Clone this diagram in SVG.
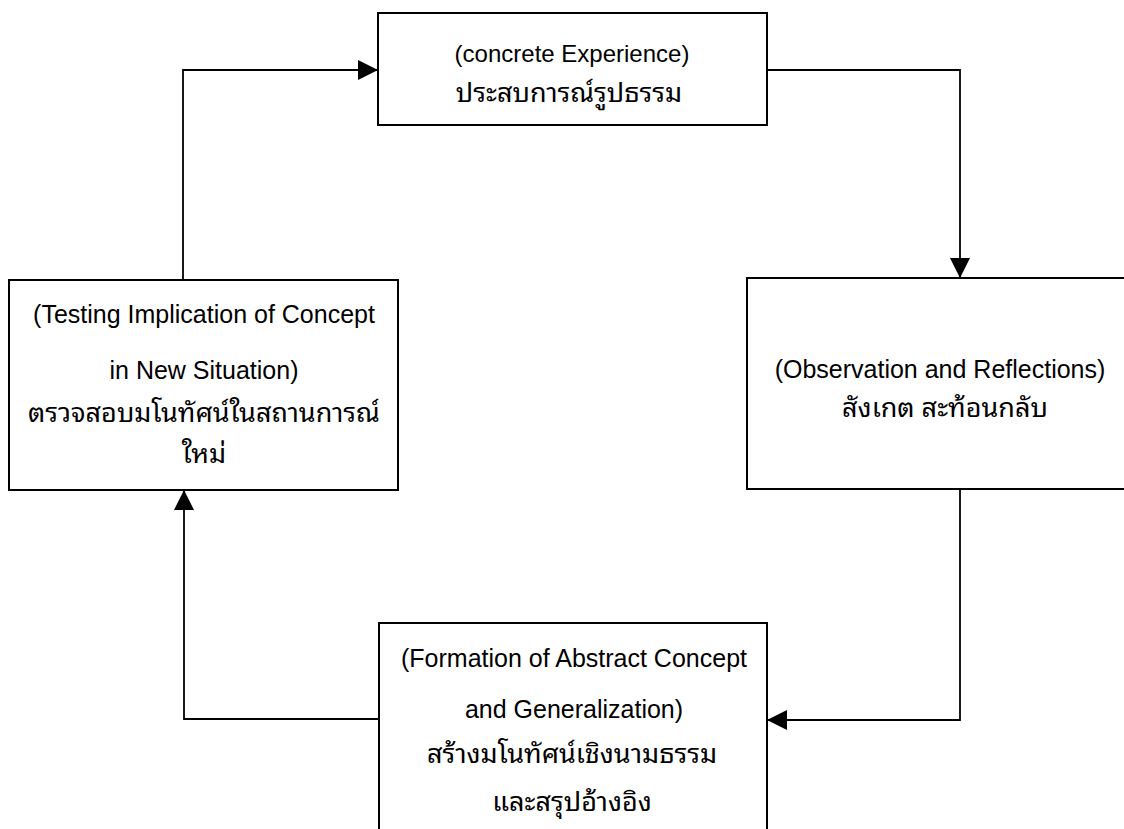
<svg xmlns="http://www.w3.org/2000/svg" width="1124" height="829" viewBox="0 0 1124 829">
  <style>
    .box { fill: #fff; stroke: #000; stroke-width: 2; }
    .conn { fill: none; stroke: #000; stroke-width: 1.8; }
    .t { font-family: "Liberation Sans", Arial, "Noto Sans Thai", "Noto Sans Thai Looped", "Noto Sans", sans-serif; font-size: 25px; fill: #000; text-anchor: middle; }
    .th { font-family: "Noto Sans Thai Looped", "Noto Sans Thai", "Liberation Sans", "Noto Sans", sans-serif; font-size: 27px; fill: #000; text-anchor: middle; }
  </style>
  <defs>
    <marker id="arrow" viewBox="0 0 20 20" refX="20" refY="10" markerWidth="20" markerHeight="20" markerUnits="userSpaceOnUse" orient="auto">
      <path d="M0,0 L20,10 L0,20 Z" fill="#000"/>
    </marker>
  </defs>

  <rect width="1124" height="829" fill="#fff"/>

  <!-- connectors between the four stages of the cycle -->
  <g id="connectors">
    <path class="conn" d="M767,70 H960 V278" marker-end="url(#arrow)"/>
    <path class="conn" d="M960,489 V720 H767" marker-end="url(#arrow)"/>
    <path class="conn" d="M379,719 H184 V490" marker-end="url(#arrow)"/>
    <path class="conn" d="M183,280 V70 H378" marker-end="url(#arrow)"/>
  </g>

  <g id="concrete-experience">
    <rect class="box" x="378" y="13" width="389" height="112"/>
    <text class="t" x="572" y="62" style="font-size:24px">(concrete Experience)</text>
    <text class="th" x="569" y="102">ประสบการณ์รูปธรรม</text>
  </g>

  <g id="observation-reflections">
    <rect class="box" x="747" y="278" width="400" height="211"/>
    <text class="t" x="940" y="378">(Observation and Reflections)</text>
    <text class="th" x="945" y="417">สังเกต สะท้อนกลับ</text>
  </g>

  <g id="abstract-concept">
    <rect class="box" x="379" y="623" width="388" height="230"/>
    <text class="t" x="574" y="667">(Formation of Abstract Concept</text>
    <text class="t" x="574" y="718">and Generalization)</text>
    <text class="th" x="572" y="763">สร้างมโนทัศน์เชิงนามธรรม</text>
    <text class="th" x="572" y="811">และสรุปอ้างอิง</text>
  </g>

  <g id="testing-implication">
    <rect class="box" x="9" y="280" width="389" height="210"/>
    <text class="t" x="204" y="323">(Testing Implication of Concept</text>
    <text class="t" x="204" y="379">in New Situation)</text>
    <text class="th" x="204" y="422">ตรวจสอบมโนทัศน์ในสถานการณ์</text>
    <text class="th" x="204" y="463">ใหม่</text>
  </g>
</svg>
